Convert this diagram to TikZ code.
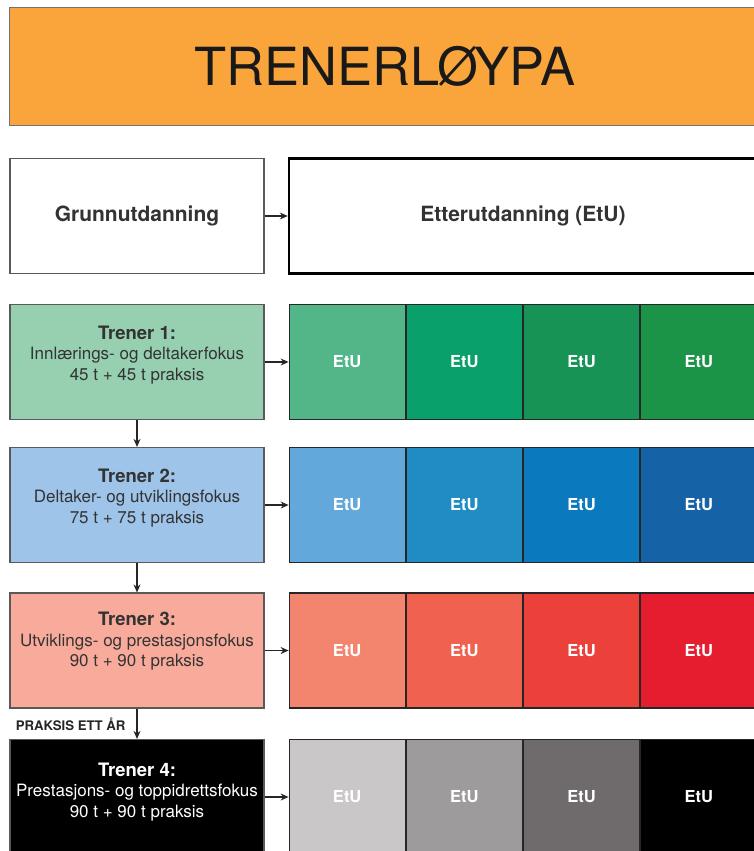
\documentclass[tikz,border=0pt]{standalone}
\usepackage{fontspec}
\setmainfont{TeX Gyre Heros}
\usetikzlibrary{positioning,arrows.meta}
\definecolor{orng}{HTML}{F9A53B}
\definecolor{tfillA}{HTML}{97CFB1}
\definecolor{tfillB}{HTML}{9EC4E9}
\definecolor{tfillC}{HTML}{F9AB9B}
\definecolor{tfillD}{HTML}{000000}
\definecolor{gA}{HTML}{52B689}
\definecolor{gB}{HTML}{0AA06B}
\definecolor{gC}{HTML}{179355}
\definecolor{gD}{HTML}{1B9447}
\definecolor{bA}{HTML}{63A8DB}
\definecolor{bB}{HTML}{1F8CC4}
\definecolor{bC}{HTML}{0B79BE}
\definecolor{bD}{HTML}{1562A7}
\definecolor{rA}{HTML}{F3856F}
\definecolor{rB}{HTML}{F0624F}
\definecolor{rC}{HTML}{EB413A}
\definecolor{rD}{HTML}{E51D2E}
\definecolor{kA}{HTML}{C9C7C8}
\definecolor{kB}{HTML}{9E9B9C}
\definecolor{kC}{HTML}{6F6B6C}
\definecolor{kD}{HTML}{000000}
\tikzset{
	trener/.style={draw=black!65, line width=1.2pt, minimum width=254pt, minimum height=115pt, inner sep=0pt},
	trenertxt/.style={align=center, text=black!80, font=\fontsize{17}{20.5}\selectfont, inner sep=0pt},
	etu/.style={draw=black!85, line width=1.2pt, minimum width=116pt, minimum height=115pt, inner sep=0pt, text=white, font=\fontsize{16.5}{19}\selectfont\bfseries},
	pil/.style={-{Stealth[length=8pt,width=7pt]}, line width=1.1pt, draw=black!85},
}

\begin{document}
\begin{tikzpicture}[x=1pt, y=1pt]
		\useasboundingbox (0,0) rectangle (754,-851);
		\node[draw=black!55, line width=1pt, fill=orng, minimum width=752pt, minimum height=117pt, font=\fontsize{52.5}{60}\selectfont, text=black!90] (title) at (385,-66.5) {TRENERLØYPA};
		
		\node[trener, font=\fontsize{21}{25}\selectfont\bfseries, text=black!80] (grunn) at (137,-216) {Grunnutdanning};
		\node[draw=black, line width=2.4pt, minimum width=468pt, minimum height=115pt, font=\fontsize{21}{25}\selectfont\bfseries, text=black!80] (etter) at (523,-216) {Etterutdanning (EtU)};
		\draw[pil] (grunn) -- (etter);
		
		\node[trener, fill=tfillA] (t1) at (137,-362) {};
		\node[trenertxt] (t1txt) at ([yshift=7pt]t1.center) {{\fontsize{18.5}{20.5}\selectfont\bfseries Trener 1:}\\Innlærings- og deltakerfokus\\45 t + 45 t praksis};
		\node[trener, fill=tfillB] (t2) at (137,-505) {};
		\node[trenertxt] (t2txt) at ([yshift=7pt]t2.center) {{\fontsize{18.5}{20.5}\selectfont\bfseries Trener 2:}\\Deltaker- og utviklingsfokus\\75 t + 75 t praksis};
		\node[trener, fill=tfillC] (t3) at (137,-650.5) {};
		\node[trenertxt] (t3txt) at ([yshift=9pt]t3.center) {{\fontsize{18.5}{20.5}\selectfont\bfseries Trener 3:}\\Utviklings- og prestasjonsfokus\\90 t + 90 t praksis};
		\node[trener, fill=tfillD] (t4) at (137,-797) {};
		\node[trenertxt, text=white] (t4txt) at ([yshift=5pt]t4.center) {{\fontsize{18.5}{20.5}\selectfont\bfseries Trener 4:}\\Prestasjons- og toppidrettsfokus\\90 t + 90 t praksis};
		
		% EtU cells
		\foreach \r/\c in {1/g, 2/b, 3/r, 4/k} {
			\node[etu, fill=\c A, right=24pt of t\r] (e\r1) {EtU};
			\node[etu, fill=\c B, right=0pt of e\r1] (e\r2) {EtU};
			\node[etu, fill=\c C, right=0pt of e\r2] (e\r3) {EtU};
			\node[etu, fill=\c D, right=0pt of e\r3] (e\r4) {EtU};
			\draw[pil] (t\r) -- (e\r1);
		}
		
		\draw[pil] (t1) -- (t2);
		\draw[pil] (t2) -- (t3);
		\draw[pil] (t3) -- node[left=11pt, font=\fontsize{13.2}{15}\selectfont\bfseries, text=black!85, inner sep=0pt] (praksis) {PRAKSIS ETT ÅR} (t4);
	\end{tikzpicture}
\end{document}
